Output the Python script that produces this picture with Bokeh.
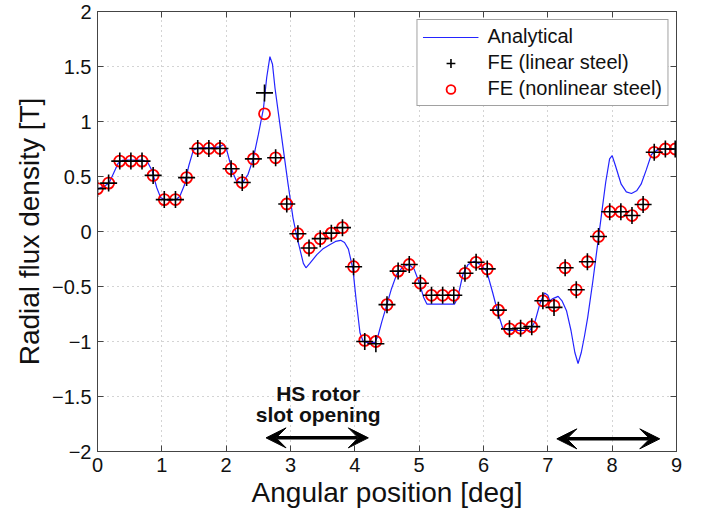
from bokeh.plotting import figure
from bokeh.models import (Legend, LegendItem, Arrow, VeeHead, Label, LinearAxis,
                          FixedTicker, Range1d, ColumnDataSource, CustomJSTickFormatter)
from bokeh.embed import file_html
from bokeh.resources import INLINE

# ---- FE sample positions (deg) ----
fe_x = [0.000, 0.173, 0.346, 0.519, 0.692, 0.865, 1.038, 1.212, 1.385, 1.558,
        1.731, 1.904, 2.077, 2.250, 2.423, 2.596, 2.769, 2.942, 3.115, 3.288,
        3.462, 3.635, 3.808, 3.981, 4.154, 4.327, 4.500, 4.673, 4.846, 5.019,
        5.192, 5.365, 5.538, 5.712, 5.885, 6.058, 6.231, 6.404, 6.577, 6.750,
        6.923, 7.096, 7.269, 7.442, 7.615, 7.788, 7.962, 8.135, 8.308, 8.481,
        8.654, 8.827, 8.980]

# FE (nonlinear steel)
fe_nonlinear = [0.39, 0.44, 0.64, 0.64, 0.64, 0.51, 0.29, 0.29, 0.49, 0.755,
                0.755, 0.755, 0.57, 0.445, 0.66, 1.07, 0.67, 0.25, -0.02, -0.15,
                -0.065, -0.015, 0.035, -0.32, -0.99, -1.00, -0.665, -0.36, -0.30, -0.47,
                -0.58, -0.58, -0.58, -0.38, -0.28, -0.34, -0.715, -0.885, -0.88, -0.865,
                -0.63, -0.675, -0.33, -0.53, -0.275, -0.045, 0.18, 0.18, 0.145, 0.245,
                0.72, 0.75, 0.75]

# FE (linear steel)
fe_linear = [0.39, 0.44, 0.64, 0.64, 0.64, 0.51, 0.29, 0.29, 0.49, 0.755,
             0.755, 0.755, 0.57, 0.445, 0.66, 1.26, 0.67, 0.25, -0.02, -0.15,
             -0.065, -0.015, 0.035, -0.32, -1.00, -1.02, -0.665, -0.36, -0.30, -0.47,
             -0.58, -0.58, -0.58, -0.38, -0.28, -0.34, -0.715, -0.885, -0.88, -0.865,
             -0.63, -0.69, -0.33, -0.53, -0.275, -0.045, 0.18, 0.18, 0.145, 0.245,
             0.72, 0.75, 0.75]

# Analytical curve
ana_x = [0.00, 0.10, 0.18, 0.25, 0.32, 0.40, 0.55, 0.70, 0.78, 0.85,
         0.92, 0.98, 1.04, 1.22, 1.28, 1.35, 1.42, 1.49, 1.56, 1.75,
         1.90, 1.96, 2.00, 2.05, 2.10, 2.16, 2.25, 2.34, 2.42, 2.50,
         2.58, 2.63, 2.68, 2.72, 2.76, 2.82, 2.89, 2.96, 3.04, 3.10,
         3.15, 3.20, 3.24, 3.30, 3.41, 3.50, 3.61, 3.70, 3.78, 3.84,
         3.90, 3.97, 4.02, 4.08, 4.13, 4.20, 4.31, 4.36, 4.42, 4.49,
         4.57, 4.65, 4.75, 4.84, 4.92, 5.01, 5.07, 5.12, 5.30, 5.55,
         5.60, 5.68, 5.76, 5.86, 5.95, 6.05, 6.14, 6.23, 6.30, 6.40,
         6.60, 6.72, 6.80, 6.88, 6.95, 7.00, 7.03, 7.08, 7.16, 7.22,
         7.29, 7.36, 7.42, 7.47, 7.52, 7.57, 7.62, 7.70, 7.78, 7.84,
         7.90, 7.96, 8.00, 8.05, 8.14, 8.22, 8.30, 8.38, 8.45, 8.53,
         8.61, 8.70, 8.80, 9.00]
ana_y = [0.385, 0.41, 0.44, 0.53, 0.62, 0.65, 0.65, 0.65, 0.63, 0.55,
         0.40, 0.31, 0.29, 0.29, 0.32, 0.42, 0.60, 0.74, 0.76, 0.76,
         0.77, 0.79, 0.76, 0.65, 0.54, 0.46, 0.44, 0.52, 0.66, 0.88,
         1.12, 1.40, 1.59, 1.52, 1.30, 1.04, 0.74, 0.44, 0.12, -0.05,
         -0.17, -0.29, -0.33, -0.29, -0.21, -0.16, -0.12, -0.09, -0.08, -0.10,
         -0.16, -0.34, -0.62, -0.92, -1.00, -1.01, -1.01, -0.95, -0.82, -0.68,
         -0.52, -0.39, -0.32, -0.30, -0.34, -0.48, -0.60, -0.66, -0.66, -0.66,
         -0.60, -0.39, -0.30, -0.27, -0.30, -0.36, -0.55, -0.75, -0.88, -0.90,
         -0.90, -0.90, -0.82, -0.65, -0.56, -0.58, -0.63, -0.61, -0.59, -0.63,
         -0.72, -0.90, -1.10, -1.20, -1.10, -0.95, -0.78, -0.45, -0.09, 0.18,
         0.45, 0.66, 0.69, 0.60, 0.43, 0.36, 0.345, 0.37, 0.43, 0.56,
         0.70, 0.74, 0.75, 0.75]

x_ticks = [0, 1, 2, 3, 4, 5, 6, 7, 8, 9]
y_ticks = [-2, -1.5, -1, -0.5, 0, 0.5, 1, 1.5, 2]

FONT = "Liberation Sans"

p = figure(width=704, height=514, x_range=Range1d(0, 9), y_range=Range1d(-2, 2),
           output_backend="svg", toolbar_location=None,
           min_border_left=97, min_border_right=28, min_border_top=11, min_border_bottom=63,
           background_fill_color="white", border_fill_color="white")

p.outline_line_color = "#444444"
p.outline_line_width = 1

fmt = CustomJSTickFormatter(code="return String(tick).replace('-', '\u2212');")

for ax in [p.xaxis[0], p.yaxis[0]]:
    ax.major_tick_in = 6
    ax.major_tick_out = 0
    ax.minor_tick_line_color = None
    ax.axis_line_color = "#444444"
    ax.major_tick_line_color = "#444444"
    ax.major_label_text_font = FONT
    ax.major_label_text_font_size = "20px"
    ax.major_label_text_color = "#111111"
    ax.axis_label_text_font = FONT
    ax.axis_label_text_font_size = "28px"
    ax.axis_label_text_font_style = "normal"
    ax.axis_label_text_color = "#111111"
    ax.formatter = fmt

p.xaxis[0].ticker = FixedTicker(ticks=x_ticks)
p.yaxis[0].ticker = FixedTicker(ticks=y_ticks)
p.xaxis[0].axis_label = "Angular position [deg]"
p.yaxis[0].axis_label = "Radial flux density [T]"
p.xaxis[0].major_label_standoff = 6
p.yaxis[0].major_label_standoff = 6
p.xaxis[0].axis_label_standoff = 2
p.yaxis[0].axis_label_standoff = 4

# top / right ticks (box)
top = LinearAxis(ticker=FixedTicker(ticks=x_ticks), major_label_text_font_size="0px",
                 major_tick_in=6, major_tick_out=0, minor_tick_line_color=None,
                 axis_line_color="#444444", major_tick_line_color="#444444")
right = LinearAxis(ticker=FixedTicker(ticks=y_ticks), major_label_text_font_size="0px",
                   major_tick_in=6, major_tick_out=0, minor_tick_line_color=None,
                   axis_line_color="#444444", major_tick_line_color="#444444")
p.add_layout(top, "above")
p.add_layout(right, "right")

p.xgrid.ticker = FixedTicker(ticks=x_ticks)
p.ygrid.ticker = FixedTicker(ticks=y_ticks)
for g in [p.xgrid[0], p.ygrid[0]]:
    g.grid_line_color = "#a8a8a8"
    g.grid_line_dash = "1 4"
    g.grid_line_width = 1

ana_src = ColumnDataSource(dict(x=ana_x, y=ana_y))
fe_src = ColumnDataSource(dict(x=fe_x, lin=fe_linear, nonlin=fe_nonlinear))

r_line = p.line("x", "y", source=ana_src, line_color="#2424ff", line_width=1.2)
r_circ = p.scatter("x", "nonlin", source=fe_src, marker="circle", size=11,
                   fill_color=None, line_color="#ff0000", line_width=1.8)
r_cross = p.scatter("x", "lin", source=fe_src, marker="cross", size=17,
                    line_color="black", line_width=1.6)

legend = Legend(items=[LegendItem(label="Analytical", renderers=[r_line]),
                       LegendItem(label="FE (linear steel)", renderers=[r_cross]),
                       LegendItem(label="FE (nonlinear steel)", renderers=[r_circ])],
                location="top_right", margin=8, padding=5, spacing=3,
                glyph_width=56, glyph_height=22, label_height=22, label_standoff=9,
                label_text_font=FONT, label_text_font_size="20px", label_text_color="#111111",
                border_line_color="#444444", border_line_width=1,
                background_fill_color="white", background_fill_alpha=1)
p.add_layout(legend, "center")

# annotations
p.add_layout(Label(x=3.43, y=-1.475, text="HS rotor", text_align="center",
                   text_baseline="middle", text_font=FONT, text_font_style="bold",
                   text_font_size="21px", text_color="#111111"))
p.add_layout(Label(x=3.43, y=-1.667, text="slot opening", text_align="center",
                   text_baseline="middle", text_font=FONT, text_font_style="bold",
                   text_font_size="21px", text_color="#111111"))

for (xa, xb, yy) in [(2.62, 4.21, -1.876), (7.14, 8.74, -1.885)]:
    p.add_layout(Arrow(x_start=xa, y_start=yy, x_end=xb, y_end=yy, line_width=3.5,
                       line_color="black",
                       start=VeeHead(size=20, fill_color="black", line_color="black"),
                       end=VeeHead(size=20, fill_color="black", line_color="black")))

open("out.html", "w").write(file_html(p, INLINE))
